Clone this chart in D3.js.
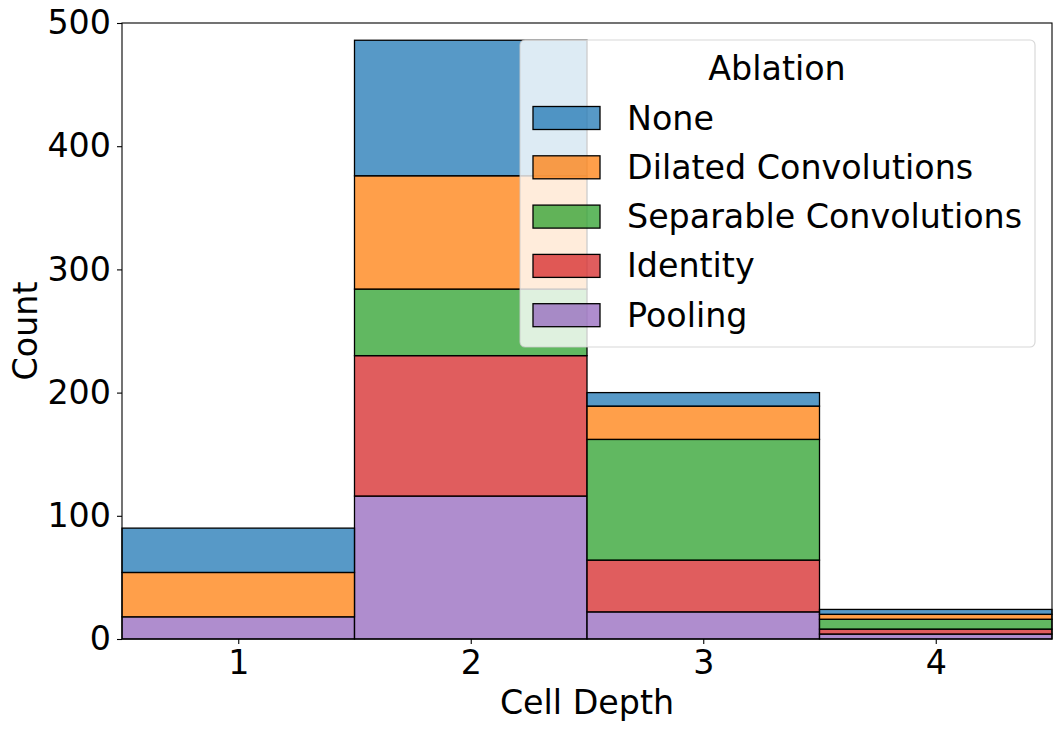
<!DOCTYPE html>
<html><head><meta charset="utf-8">
<script src="https://cdn.jsdelivr.net/npm/d3@7"></script>
<style>body{margin:0;background:#fff}svg{display:block}text{font-family:"DejaVu Sans",sans-serif;fill:#000}</style>
</head><body><svg id="c" width="1062" height="730"></svg>
<script>
const depths = [1, 2, 3, 4];
// stacking order bottom -> top
const series = ["Pooling", "Identity", "Separable Convolutions", "Dilated Convolutions", "None"];
const pooling   = [18, 116, 22, 4];
const identity  = [0, 114, 42, 4];
const separable = [0, 54, 98, 8];
const dilated   = [36, 92, 27, 4];
const none      = [36, 110, 11, 4];
const legendOrder = ["None", "Dilated Convolutions", "Separable Convolutions", "Identity", "Pooling"];
const yTicks = [0, 100, 200, 300, 400, 500];
const colors = {"None":"#1f77b4","Dilated Convolutions":"#ff7f0e","Separable Convolutions":"#2ca02c","Identity":"#d62728","Pooling":"#9467bd"};

const valuesBy = {"Pooling":pooling,"Identity":identity,"Separable Convolutions":separable,"Dilated Convolutions":dilated,"None":none};
const table = depths.map((d,i)=>{const o={depth:d}; series.forEach(s=>o[s]=valuesBy[s][i]); return o;});
const stack = d3.stack().keys(series)(table);

const svg = d3.select("#c");
const L=122, R=1052, T=23, B=639;
const x = d3.scaleLinear().domain([0.5,4.5]).range([L,R]);
const y = d3.scaleLinear().domain([0,500]).range([B,T]);
const FS = 33.3;

const g = svg.append("g");
stack.forEach(layer=>{
  g.selectAll(null).data(layer).join("rect")
    .attr("x", d=>x(d.data.depth-0.5))
    .attr("width", d=>x(d.data.depth+0.5)-x(d.data.depth-0.5))
    .attr("y", d=>y(d[1]))
    .attr("height", d=>y(d[0])-y(d[1]))
    .attr("fill", colors[layer.key]).attr("fill-opacity",0.75)
    .attr("stroke","#000").attr("stroke-width",1.3);
});

// axes
const xa = svg.append("g").attr("transform",`translate(0,${B})`)
  .call(d3.axisBottom(x).tickValues(depths).tickFormat(d3.format("d")).tickSize(5).tickPadding(6));
const ya = svg.append("g").attr("transform",`translate(${L},0)`)
  .call(d3.axisLeft(y).tickValues(yTicks).tickSize(5).tickPadding(6));
[xa,ya].forEach(a=>{a.select(".domain").remove(); a.selectAll("line").attr("stroke","#000").attr("stroke-width",1.1);
  a.selectAll("text").attr("font-size",FS).attr("font-family","DejaVu Sans").attr("fill","#000");});
svg.append("rect").attr("x",L).attr("y",T).attr("width",R-L).attr("height",B-T)
  .attr("fill","none").attr("stroke","#000").attr("stroke-width",1.1);

svg.append("text").attr("x",(L+R)/2).attr("y",714).attr("text-anchor","middle").attr("font-size",FS).text("Cell Depth");
svg.append("text").attr("transform",`translate(37,${(T+B)/2}) rotate(-90)`).attr("text-anchor","middle").attr("font-size",FS).text("Count");

// legend
const lg = svg.append("g");
lg.append("rect").attr("x",520).attr("y",40).attr("width",515).attr("height",307).attr("rx",5)
  .attr("fill","#fff").attr("fill-opacity",0.8).attr("stroke","#cccccc").attr("stroke-opacity",0.8).attr("stroke-width",1.1);
lg.append("text").attr("x",777).attr("y",68).attr("dominant-baseline","central").attr("text-anchor","middle").attr("font-size",FS).text("Ablation");
legendOrder.forEach((k,i)=>{
  const cy = 118 + i*49.3;
  lg.append("rect").attr("x",533).attr("y",cy-11.5).attr("width",67).attr("height",23)
    .attr("fill",colors[k]).attr("fill-opacity",0.75).attr("stroke","#000").attr("stroke-width",1.3);
  lg.append("text").attr("x",627).attr("y",cy).attr("dominant-baseline","central").attr("font-size",FS).text(k);
});
</script></body></html>
